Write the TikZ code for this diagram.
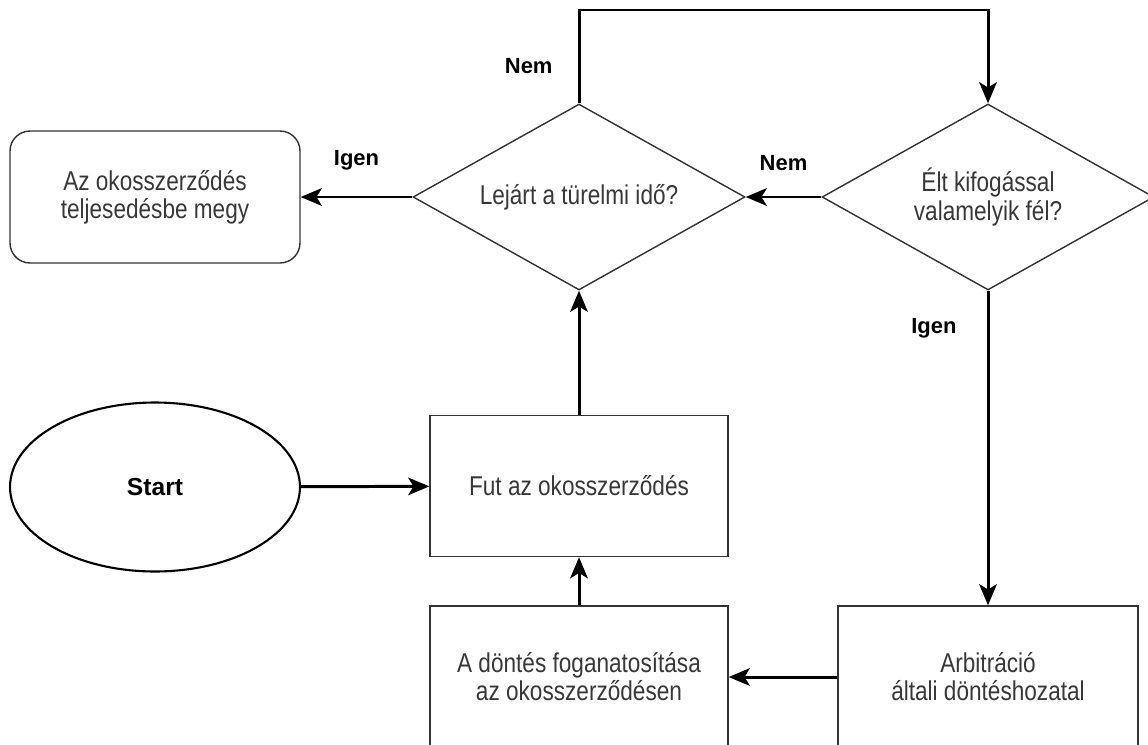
\documentclass[tikz,border=0pt]{standalone}
\usepackage{fontspec}
\setmainfont{Liberation Sans}
\newfontfamily\narrowfont{Liberation Sans}[FakeStretch=0.83]
\usetikzlibrary{shapes.geometric, arrows.meta}

\begin{document}
\begin{tikzpicture}[x=0.02cm, y=-0.02cm,
		box/.style={draw=black!80, line width=0.8pt, text=black!78, align=center, inner sep=0pt, font=\narrowfont\fontsize{15.5}{16}\selectfont},
		decision/.style={box, diamond, aspect=1.785, minimum width=6.64cm, minimum height=3.72cm},
		flow/.style={draw=black, line width=1.7pt, -{Stealth[length=12pt, width=10pt, inset=3pt]}},
		answer/.style={inner sep=0pt, font=\fontsize{12.5}{14}\selectfont\bfseries}]
		\useasboundingbox (0,0) rectangle (1148,744);
		\clip (0,0) rectangle (1148,744);
		% decisions
		\node (lejart) at (579,197) [decision] {Lejárt a türelmi idő?};
		\node (kifogas) at (988,197) [decision] {Élt kifogással\\valamelyik fél?};
		% boxes
		\node (vege) at (155,197) [box, rounded corners=0.4cm, minimum width=5.8cm, minimum height=2.64cm] {Az okosszerződés\\teljesedésbe megy};
		\node (start) at (155,487) [draw, ellipse, line width=1.2pt, minimum width=5.8cm, minimum height=3.38cm, font=\fontsize{14}{16}\selectfont\bfseries] {Start};
		\node (fut) at (579,486) [box, minimum width=5.96cm, minimum height=2.82cm] {Fut az okosszerződés};
		\node (dontes) at (579,677) [box, minimum width=5.96cm, minimum height=2.84cm] {A döntés foganatosítása\\az okosszerződésen};
		\node (arbitracio) at (988,677) [box, minimum width=6cm, minimum height=2.84cm] {Arbitráció\\általi döntéshozatal};
		\coordinate (fent) at (579,10);
		% connectors
		\draw[flow] (start) -- (fut);
		\draw[flow] (fut) -- (lejart);
		\draw[flow] (lejart) -- node[answer, above=0.5cm] {Igen} (vege);
		\draw[flow] (kifogas) -- node[answer, above=0.5cm] {Nem} (lejart);
		\draw[flow] (lejart.north) -- node[answer, pos=0.4, left=0.5cm] {Nem} (fent) -| (kifogas.north);
		\draw[flow] (kifogas.south) -- node[answer, pos=0.12, left=0.6cm] {Igen} (kifogas.south |- arbitracio.north);
		\draw[flow] (arbitracio) -- (dontes);
		\draw[flow] (dontes) -- (fut);
	\end{tikzpicture}
\end{document}
